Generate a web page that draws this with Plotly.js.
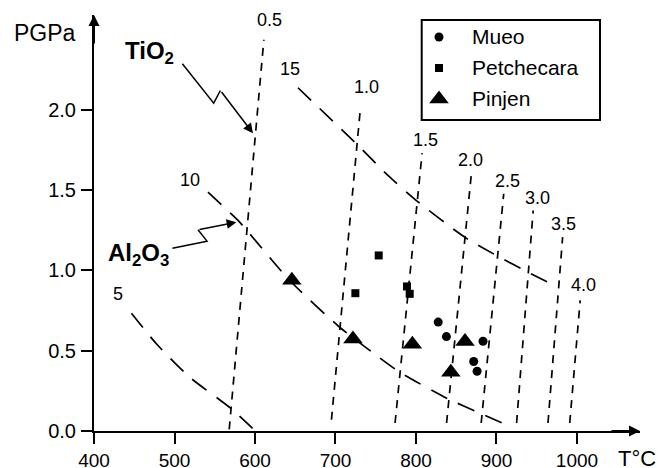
<!DOCTYPE html>
<html>
<head>
<meta charset="utf-8">
<script src="https://cdn.plot.ly/plotly-3.0.1.min.js"></script>
<style>html,body{margin:0;padding:0;background:#fff;}#chart{width:670px;height:468px;}</style>
</head>
<body>
<div id="chart"></div>
<script>
// Isopleths (short dashes), labelled 0.5 ... 4.0
var isoLabels = ['0.5','1.0','1.5','2.0','2.5','3.0','3.5','4.0'];
var isoBottomT = [568, 695, 774, 838, 881, 925, 964, 991];
var isoBottomP = [0.01, 0.07, 0.05, 0.05, 0.05, 0.05, 0.05, 0.05];
var isoTopT = [611, 731, 807.6, 869, 909, 945.6, 982.2, 1004];
var isoTopP = [2.436, 2.012, 1.73, 1.611, 1.477, 1.373, 1.207, 0.813];
var isoLabelT = [618, 739, 812.3, 867.7, 913.3, 950.6, 983.7, 1007.5];
var isoLabelP = [2.562, 2.143, 1.809, 1.689, 1.558, 1.452, 1.29, 0.906];

// Curves (long dashes), labelled 5, 10, 15
var curve5T = [446.5, 477.5, 518.9, 570.7, 600.5];
var curve5P = [0.733, 0.543, 0.335, 0.138, 0.0];
var curve10T = [541.6, 578.9, 593.4, 643.1, 705.2, 751, 779.8, 839.8, 881.2, 918.5];
var curve10P = [1.487, 1.311, 1.228, 0.937, 0.646, 0.47, 0.366, 0.2, 0.107, 0.024];
var curve15T = [653.4, 726, 765.2, 802.9, 860.5, 899.9, 939.1, 972.3];
var curve15P = [2.137, 1.788, 1.591, 1.425, 1.207, 1.093, 0.989, 0.906];
var curveLabels = ['5', '10', '15'];
var curveLabelT = [430.3, 519, 643.1];
var curveLabelP = [0.854, 1.565, 2.255];

// Samples
var seriesNames = ['Mueo', 'Petchecara', 'Pinjen'];
var mueoT = [827.6, 837.8, 883.3, 871.7, 875.9];
var mueoP = [0.678, 0.588, 0.559, 0.433, 0.372];
var petchecaraT = [753.7, 724.7, 788.8, 792.2];
var petchecaraP = [1.093, 0.858, 0.90, 0.854];
var pinjenT = [645.8, 721.7, 795.5, 860.9, 843.3];
var pinjenP = [0.938, 0.573, 0.54, 0.558, 0.366];

// Pointers
var tioPointerT = [509.8, 548.7, 557.0, 597.5];
var tioPointerP = [2.286, 2.041, 2.120, 1.854];
var alPointerT = [497.4, 540.4, 529.2, 576.9];
var alPointerP = [1.138, 1.182, 1.253, 1.300];
var oxideLabels = ['<b>TiO<sub>2</sub></b>', '<b>Al<sub>2</sub>O<sub>3</sub></b>'];
var oxideLabelT = [469.4, 455.5];
var oxideLabelP = [2.357, 1.099];

var xTicks = [400, 500, 600, 700, 800, 900, 1000];
var yTicks = [0, 0.5, 1.0, 1.5, 2.0];

var FONT = 'Liberation Sans, Arial, sans-serif';
var symbols = ['circle', 'square', 'triangle-up'];
var symSizes = [9, 8, 17];

var traces = [];
for (var i = 0; i < isoLabels.length; i++) {
  traces.push({
    x: [isoBottomT[i], isoTopT[i]], y: [isoBottomP[i], isoTopP[i]],
    mode: 'lines', showlegend: false, hoverinfo: 'skip',
    line: {color: '#000', width: 1.7, dash: '8px,7px'}
  });
}
[[curve5T, curve5P], [curve10T, curve10P], [curve15T, curve15P]].forEach(function (c) {
  traces.push({
    x: c[0], y: c[1], mode: 'lines', showlegend: false, hoverinfo: 'skip',
    line: {color: '#000', width: 1.7, dash: '18px,12px', shape: 'spline', smoothing: 0.6}
  });
});
[[tioPointerT, tioPointerP], [alPointerT, alPointerP]].forEach(function (c) {
  traces.push({
    x: c[0].slice(0, 3), y: c[1].slice(0, 3), mode: 'lines', showlegend: false, hoverinfo: 'skip',
    line: {color: '#000', width: 1.5}
  });
});
[[mueoT, mueoP], [petchecaraT, petchecaraP], [pinjenT, pinjenP]].forEach(function (s, n) {
  traces.push({x: s[0], y: s[1], name: seriesNames[n], mode: 'markers', cliponaxis: false, showlegend: false,
    marker: {symbol: symbols[n], size: symSizes[n], color: '#000'}});
});

// Legend built on an overlay axis measured in pixels
var legendRowY = [37, 68, 99];
var legendSymX = 439, legendTextX = 470;
seriesNames.forEach(function (nm, n) {
  traces.push({x: [legendSymX], y: [legendRowY[n]], xaxis: 'x2', yaxis: 'y2', mode: 'markers',
    showlegend: false, hoverinfo: 'skip', cliponaxis: false,
    marker: {symbol: symbols[n], size: symSizes[n], color: '#000'}});
});

var ann = [];
for (var j = 0; j < isoLabels.length; j++) {
  ann.push({x: isoLabelT[j], y: isoLabelP[j], text: isoLabels[j], showarrow: false,
    font: {family: FONT, size: 18, color: '#000'}});
}
for (var k = 0; k < curveLabels.length; k++) {
  ann.push({x: curveLabelT[k], y: curveLabelP[k], text: curveLabels[k], showarrow: false,
    font: {family: FONT, size: 18, color: '#000'}});
}
for (var m = 0; m < oxideLabels.length; m++) {
  ann.push({x: oxideLabelT[m], y: oxideLabelP[m], text: oxideLabels[m], showarrow: false,
    font: {family: FONT, size: 24, color: '#000'}});
}
[[tioPointerT, tioPointerP], [alPointerT, alPointerP]].forEach(function (c) {
  ann.push({x: c[0][3], y: c[1][3], ax: c[0][2], ay: c[1][2], axref: 'x', ayref: 'y',
    text: '', showarrow: true, arrowhead: 2, arrowsize: 1.3, arrowwidth: 1.5, arrowcolor: '#000', standoff: 0});
});
seriesNames.forEach(function (nm, n) {
  ann.push({xref: 'x2', yref: 'y2', x: legendTextX, y: legendRowY[n] - 1, text: nm, showarrow: false,
    xanchor: 'left', yanchor: 'middle', font: {family: FONT, size: 21, color: '#000'}});
});
// axis arrows
ann.push({xref: 'paper', yref: 'paper', x: 1, y: 0, ax: -30, ay: 0, text: '', showarrow: true,
  arrowhead: 2, arrowsize: 1.1, arrowwidth: 2, arrowcolor: '#000', standoff: 0});
ann.push({xref: 'paper', yref: 'paper', x: 0, y: 1, ax: 0, ay: 30, text: '', showarrow: true,
  arrowhead: 2, arrowsize: 1.1, arrowwidth: 2, arrowcolor: '#000', standoff: 0});
// axis titles
ann.push({xref: 'paper', yref: 'paper', x: -0.0897, y: 0.957, xanchor: 'center', yanchor: 'middle',
  text: 'PGPa', showarrow: false, font: {family: FONT, size: 23, color: '#000'}});
ann.push({xref: 'paper', yref: 'paper', x: 0.9945, y: -0.0673, xanchor: 'center', yanchor: 'middle',
  text: 'T°C', showarrow: false, font: {family: FONT, size: 22, color: '#000'}});

var layout = {
  width: 670, height: 468,
  margin: {l: 94, r: 30, t: 15, b: 37, pad: 0},
  paper_bgcolor: '#fff', plot_bgcolor: 'rgba(0,0,0,0)',
  font: {family: FONT, color: '#000'},
  showlegend: false,
  xaxis: {range: [400, 1078.3], tickvals: xTicks, ticktext: xTicks.map(String),
    showgrid: false, zeroline: false, showline: true, linecolor: '#000', linewidth: 2,
    ticks: 'outside', ticklen: 11, tickwidth: 2, tickcolor: '#000',
    tickfont: {family: FONT, size: 19, color: '#000'}, ticklabelstandoff: 0},
  yaxis: {range: [0, 2.59], tickvals: yTicks, ticktext: yTicks.map(function (v) { return v.toFixed(1); }),
    showgrid: false, zeroline: false, showline: true, linecolor: '#000', linewidth: 2,
    ticks: 'outside', ticklen: 11, tickwidth: 2, tickcolor: '#000',
    tickfont: {family: FONT, size: 20, color: '#000'}, ticklabelstandoff: 1},
  xaxis2: {overlaying: 'x', range: [94, 640], visible: false, fixedrange: true},
  yaxis2: {overlaying: 'y', range: [431, 15], visible: false, fixedrange: true},
  shapes: [{type: 'rect', xref: 'x2', yref: 'y2', x0: 421.7, x1: 600, y0: 20, y1: 120,
    line: {color: '#000', width: 2}, fillcolor: '#fff', layer: 'below'}],
  annotations: ann
};
Plotly.newPlot('chart', traces, layout, {staticPlot: true, displayModeBar: false});
</script>
</body>
</html>
